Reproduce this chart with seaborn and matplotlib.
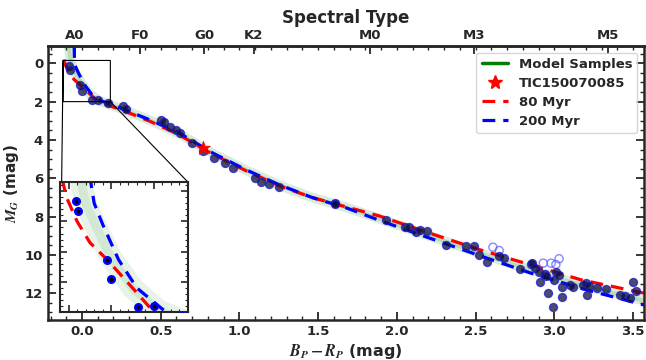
import numpy as np
import pandas as pd
import matplotlib
matplotlib.use("Agg")
import matplotlib.pyplot as plt
import seaborn as sns
from matplotlib.ticker import MultipleLocator
from matplotlib.lines import Line2D

# ---------------- data ----------------
member_bprp = [-0.083, -0.079, -0.01, 0.0, 0.062, 0.10, 0.166, 0.26, 0.28, 0.50, 0.52, 0.56, 0.60, 0.62,
               0.70, 0.77, 0.84, 0.91, 0.96, 1.10, 1.14, 1.19, 1.25, 1.61, 1.61, 1.93, 2.05, 2.08, 2.12,
               2.15, 2.19, 2.31, 2.44, 2.49, 2.52, 2.57, 2.65, 2.68, 2.78, 2.85, 2.86, 2.88, 2.90, 2.91,
               2.94, 2.95, 2.96, 2.99, 3.00, 3.01, 3.03, 3.05, 3.05, 3.10, 3.12, 3.18, 3.20, 3.21, 3.22,
               3.27, 3.33, 3.42, 3.45, 3.48, 3.50, 3.52]
member_mg = [0.16, 0.33, 1.13, 1.45, 1.92, 1.90, 2.07, 2.24, 2.36, 2.97, 3.08, 3.30, 3.50, 3.66,
             4.15, 4.57, 4.96, 5.22, 5.44, 6.00, 6.18, 6.30, 6.44, 7.27, 7.35, 8.18, 8.53, 8.56, 8.80,
             8.70, 8.75, 9.48, 9.53, 9.55, 10.00, 10.38, 10.07, 10.17, 10.72, 10.50, 10.43, 10.69, 10.87, 11.39,
             11.00, 11.10, 11.97, 12.71, 11.30, 10.87, 11.04, 11.65, 12.20, 11.56, 11.69, 11.56, 11.47, 12.08, 11.60,
             11.73, 11.78, 12.08, 12.17, 12.26, 11.39, 11.91]

open_bprp = [2.61, 2.65, 2.93, 2.98, 3.01, 3.03]
open_mg = [9.60, 9.77, 10.43, 10.43, 10.50, 10.20]

target_bprp = [0.77]
target_mg = [4.42]

iso80_bprp = [-0.115, -0.105, -0.08, -0.05, -0.01, 0.05, 0.10, 0.24, 0.43, 0.61, 0.83, 1.04, 1.25, 1.46,
              1.68, 1.89, 2.21, 2.53, 2.85, 3.17, 3.60]
iso80_mg = [-0.2, 0.1, 0.5, 0.85, 1.13, 1.6, 2.0, 2.4, 3.02, 3.7, 4.75, 5.6, 6.38, 7.0,
            7.5, 7.97, 8.87, 9.74, 10.52, 11.3, 12.05]

iso200_bprp = [-0.05, -0.048, -0.04, -0.02, 0.017, 0.06, 0.12, 0.25, 0.43, 0.61, 0.83, 1.04, 1.25, 1.46,
               1.68, 1.89, 2.21, 2.53, 2.85, 3.17, 3.60]
iso200_mg = [-0.95, -0.15, 0.2, 0.55, 1.13, 1.6, 1.95, 2.35, 2.95, 3.6, 4.68, 5.55, 6.33, 7.0,
             7.55, 8.2, 9.13, 10.05, 10.95, 11.75, 12.68]

model_bprp = [-0.085, -0.075, -0.06, -0.035, 0.0, 0.05, 0.11, 0.25, 0.43, 0.61, 0.83, 1.04, 1.25, 1.46,
              1.68, 1.89, 2.21, 2.53, 2.85, 3.17, 3.60]
model_mg = [-0.95, -0.3, 0.2, 0.6, 1.1, 1.6, 1.97, 2.37, 2.97, 3.64, 4.7, 5.57, 6.35, 7.0,
            7.52, 8.12, 9.02, 9.92, 10.78, 11.58, 12.45]

spt_labels = ["A0", "F0", "G0", "K2", "M0", "M3", "M5"]
spt_bprp = [-0.044, 0.37, 0.775, 1.09, 1.83, 2.49, 3.34]

# ---------------- style ----------------
sns.set_style("ticks")
plt.rcParams["font.family"] = ["DejaVu Sans"]
plt.rcParams["font.weight"] = "bold"
plt.rcParams["mathtext.fontset"] = "stix"

members = pd.DataFrame({"bprp": member_bprp, "mg": member_mg})
opens = pd.DataFrame({"bprp": open_bprp, "mg": open_mg})
target = pd.DataFrame({"bprp": target_bprp, "mg": target_mg})
iso80 = pd.DataFrame({"bprp": iso80_bprp, "mg": iso80_mg})
iso200 = pd.DataFrame({"bprp": iso200_bprp, "mg": iso200_mg})
model = pd.DataFrame({"bprp": model_bprp, "mg": model_mg})

fig = plt.figure(figsize=(6.46, 3.6), dpi=100)
ax = fig.add_axes([0.0743, 0.111, 0.9227, 0.761])


def draw(a, band_lw, dash_lw, msize, band_alpha, inset=False):
    # model samples band
    sns.lineplot(data=model, x="bprp", y="mg", ax=a, sort=False, estimator=None,
                 color="green", lw=band_lw, alpha=band_alpha, zorder=1)
    sns.lineplot(data=model, x="bprp", y="mg", ax=a, sort=False, estimator=None,
                 color="green", lw=band_lw * 0.4, alpha=band_alpha, zorder=1)
    sns.scatterplot(data=opens, x="bprp", y="mg", ax=a, s=msize, facecolor="none",
                    edgecolor="#5555ff", linewidth=1.0, alpha=0.7, zorder=3)
    if inset:
        sns.scatterplot(data=members, x="bprp", y="mg", ax=a, s=msize, color="black",
                        edgecolor="blue", linewidth=1.8, alpha=1.0, zorder=3)
    else:
        sns.scatterplot(data=members, x="bprp", y="mg", ax=a, s=msize, color="#0f0f3c",
                        edgecolor="#1a1ad0", linewidth=0.9, alpha=0.75, zorder=3)
    sns.lineplot(data=iso80, x="bprp", y="mg", ax=a, sort=False, estimator=None,
                 color="red", lw=dash_lw, dashes=(4, 2.5), zorder=2)
    sns.lineplot(data=iso200, x="bprp", y="mg", ax=a, sort=False, estimator=None,
                 color="blue", lw=dash_lw, dashes=(4, 2.5), zorder=2)
    sns.scatterplot(data=target, x="bprp", y="mg", ax=a, marker="*", s=msize * 3.2,
                    color="red", edgecolor="red", linewidth=0.5, zorder=4)


draw(ax, 7, 2.3, 34, 0.15)
ax.set_xlim(-0.216, 3.57)
ax.set_ylim(13.4, -0.9)
ax.xaxis.set_major_locator(MultipleLocator(0.5))
ax.xaxis.set_minor_locator(MultipleLocator(0.1))
ax.yaxis.set_major_locator(MultipleLocator(2))
ax.yaxis.set_minor_locator(MultipleLocator(0.5))
ax.tick_params(which="both", direction="in", right=True, top=False, labelsize=9.5)
ax.tick_params(which="major", length=6, width=1.3)
ax.tick_params(which="minor", length=3, width=1)
for sp in ax.spines.values():
    sp.set_linewidth(1.8)
for lab in ax.get_xticklabels() + ax.get_yticklabels():
    lab.set_fontweight("bold")
ax.set_xlabel("$B_P - R_P$ (mag)", fontsize=11.5, fontweight="bold", labelpad=3)
ax.set_ylabel("$M_G$ (mag)", fontsize=11, fontweight="bold", labelpad=3)

sec = ax.secondary_xaxis("top")
sec.set_xticks(spt_bprp)
sec.set_xticklabels(spt_labels, fontweight="bold", fontsize=9.5)
sec.xaxis.set_minor_locator(MultipleLocator(0.1))
sec.tick_params(which="both", direction="in", pad=3)
sec.tick_params(which="major", length=6, width=1.3)
sec.tick_params(which="minor", length=3, width=1)
sec.spines["top"].set_linewidth(1.8)
sec.set_xlabel("Spectral Type", fontsize=12, fontweight="bold", labelpad=4)

handles = [
    Line2D([], [], color="green", lw=2.5),
    Line2D([], [], color="red", marker="*", ls="none", markersize=10),
    Line2D([], [], color="red", lw=2.3, dashes=(4, 2.5)),
    Line2D([], [], color="blue", lw=2.3, dashes=(4, 2.5)),
]
labels = ["Model Samples", "TIC150070085", "80 Myr", "200 Myr"]
leg = ax.legend(handles, labels, loc="upper right", prop={"weight": "bold", "size": 9.5},
                frameon=True, borderaxespad=0.5, handlelength=2.0, labelspacing=0.45)
leg.get_frame().set_edgecolor("#cccccc")

# inset
axins = fig.add_axes([0.093, 0.133, 0.198, 0.361])
draw(axins, 16, 2.3, 22, 0.09, inset=True)
axins.set_xlim(-0.12, 0.18)
axins.set_ylim(2.0, -0.15)
axins.set_xlabel("")
axins.set_ylabel("")
axins.xaxis.set_major_locator(MultipleLocator(0.1))
axins.xaxis.set_minor_locator(MultipleLocator(0.02))
axins.yaxis.set_major_locator(MultipleLocator(0.5))
axins.yaxis.set_minor_locator(MultipleLocator(0.1))
axins.tick_params(which="both", direction="in", top=True, right=True,
                  labelbottom=False, labelleft=False)
axins.tick_params(which="major", length=5, width=1.2)
axins.tick_params(which="minor", length=2.5, width=0.8)
for sp in axins.spines.values():
    sp.set_linewidth(1.5)
ax.indicate_inset_zoom(axins, edgecolor="black", alpha=1.0, linewidth=0.8)

fig.savefig("out.png", dpi=100)
